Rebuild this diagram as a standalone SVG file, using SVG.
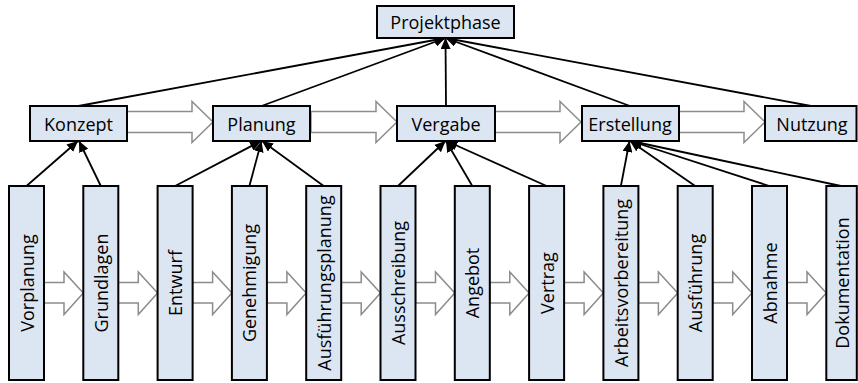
<svg xmlns="http://www.w3.org/2000/svg" xmlns:xlink="http://www.w3.org/1999/xlink" width="858" height="383" viewBox="0 0 858 383">
  <style>
    .box { fill: #dce6f2; stroke: #000; stroke-width: 2; }
    .lbl { font-family: "Open Sans", "Liberation Sans", sans-serif; font-size: 18px; fill: #000; text-anchor: middle; dominant-baseline: central; }
    .flow { fill: #fff; stroke: #8c8c8c; stroke-width: 1.5; stroke-linejoin: miter; }
    .link { stroke: #000; stroke-width: 1.8; fill: none; marker-end: url(#tip); }
  </style>
  <defs>
    <marker id="tip" markerUnits="userSpaceOnUse" markerWidth="12" markerHeight="10" refX="11" refY="5" orient="auto">
      <path d="M0,0 L11,5 L0,10 Z" fill="#000"/>
    </marker>
    <!-- wide block arrow between phase boxes -->
    <path id="bigArrow" d="M0,111.5 H65 V101.5 L86,122 L65,142.5 V132.5 H0 Z"/>
    <!-- narrow block arrow between step boxes -->
    <path id="smallArrow" d="M0,282.5 H20 V272 L39.3,293 L20,314.5 V303 H0 Z"/>
  </defs>

  <!-- sequence arrows -->
  <g id="flow-arrows" class="flow">
    <use xlink:href="#bigArrow" x="127"/>
    <use xlink:href="#bigArrow" x="311"/>
    <use xlink:href="#bigArrow" x="495"/>
    <use xlink:href="#bigArrow" x="679"/>
    <use xlink:href="#smallArrow" x="44"/>
    <use xlink:href="#smallArrow" x="118.3"/>
    <use xlink:href="#smallArrow" x="192.6"/>
    <use xlink:href="#smallArrow" x="266.9"/>
    <use xlink:href="#smallArrow" x="341.2"/>
    <use xlink:href="#smallArrow" x="415.5"/>
    <use xlink:href="#smallArrow" x="489.8"/>
    <use xlink:href="#smallArrow" x="564.1"/>
    <use xlink:href="#smallArrow" x="638.4"/>
    <use xlink:href="#smallArrow" x="712.7"/>
    <use xlink:href="#smallArrow" x="787"/>
  </g>

  <!-- hierarchy connectors -->
  <g id="connectors" class="link">
    <line x1="78.5" y1="106" x2="445.5" y2="38"/>
    <line x1="261.5" y1="106" x2="445.5" y2="38"/>
    <line x1="446" y1="106" x2="445.5" y2="38"/>
    <line x1="630" y1="106" x2="445.5" y2="38"/>
    <line x1="811" y1="106" x2="445.5" y2="38"/>

    <line x1="26.5" y1="186" x2="78" y2="141"/>
    <line x1="100.8" y1="186" x2="79" y2="141"/>

    <line x1="175.1" y1="186" x2="261" y2="141"/>
    <line x1="249.4" y1="186" x2="261.5" y2="141"/>
    <line x1="323.7" y1="186" x2="262" y2="141"/>

    <line x1="398" y1="186" x2="445.5" y2="141"/>
    <line x1="472.3" y1="186" x2="446" y2="141"/>
    <line x1="546.6" y1="186" x2="446.5" y2="141"/>

    <line x1="620.9" y1="186" x2="629.5" y2="141"/>
    <line x1="695.2" y1="186" x2="630" y2="141"/>
    <line x1="769.5" y1="186" x2="630.5" y2="141"/>
    <line x1="841" y1="186" x2="631" y2="141"/>
  </g>

  <!-- top level -->
  <g id="projektphase">
    <rect class="box" x="377" y="6" width="137" height="32"/>
    <text class="lbl" x="445.5" y="22">Projektphase</text>
  </g>

  <!-- phases -->
  <g id="konzept">
    <rect class="box" x="30" y="106" width="97" height="35"/>
    <text class="lbl" x="78.5" y="123.5">Konzept</text>
  </g>
  <g id="planung">
    <rect class="box" x="213" y="106" width="97" height="35"/>
    <text class="lbl" x="261.5" y="123.5">Planung</text>
  </g>
  <g id="vergabe">
    <rect class="box" x="397" y="106" width="98" height="35"/>
    <text class="lbl" x="446" y="123.5">Vergabe</text>
  </g>
  <g id="erstellung">
    <rect class="box" x="582" y="106" width="97" height="35"/>
    <text class="lbl" x="630" y="123.5">Erstellung</text>
  </g>
  <g id="nutzung">
    <rect class="box" x="765" y="106" width="91.5" height="35"/>
    <text class="lbl" x="812" y="123.5">Nutzung</text>
  </g>

  <!-- steps -->
  <g id="vorplanung">
    <rect class="box" x="9" y="186" width="35" height="194"/>
    <text class="lbl" transform="translate(26.5,283) rotate(-90)">Vorplanung</text>
  </g>
  <g id="grundlagen">
    <rect class="box" x="83.3" y="186" width="35" height="194"/>
    <text class="lbl" transform="translate(100.8,283) rotate(-90)">Grundlagen</text>
  </g>
  <g id="entwurf">
    <rect class="box" x="157.6" y="186" width="35" height="194"/>
    <text class="lbl" transform="translate(175.1,283) rotate(-90)">Entwurf</text>
  </g>
  <g id="genehmigung">
    <rect class="box" x="231.9" y="186" width="35" height="194"/>
    <text class="lbl" transform="translate(249.4,283) rotate(-90)">Genehmigung</text>
  </g>
  <g id="ausfuehrungsplanung">
    <rect class="box" x="306.2" y="186" width="35" height="194"/>
    <text class="lbl" transform="translate(323.7,283) rotate(-90)">Ausführungsplanung</text>
  </g>
  <g id="ausschreibung">
    <rect class="box" x="380.5" y="186" width="35" height="194"/>
    <text class="lbl" transform="translate(398,283) rotate(-90)">Ausschreibung</text>
  </g>
  <g id="angebot">
    <rect class="box" x="454.8" y="186" width="35" height="194"/>
    <text class="lbl" transform="translate(472.3,283) rotate(-90)">Angebot</text>
  </g>
  <g id="vertrag">
    <rect class="box" x="529.1" y="186" width="35" height="194"/>
    <text class="lbl" transform="translate(546.6,283) rotate(-90)">Vertrag</text>
  </g>
  <g id="arbeitsvorbereitung">
    <rect class="box" x="603.4" y="186" width="35" height="194"/>
    <text class="lbl" transform="translate(620.9,283) rotate(-90)">Arbeitsvorbereitung</text>
  </g>
  <g id="ausfuehrung">
    <rect class="box" x="677.7" y="186" width="35" height="194"/>
    <text class="lbl" transform="translate(695.2,283) rotate(-90)">Ausführung</text>
  </g>
  <g id="abnahme">
    <rect class="box" x="752" y="186" width="35" height="194"/>
    <text class="lbl" transform="translate(769.5,283) rotate(-90)">Abnahme</text>
  </g>
  <g id="dokumentation">
    <rect class="box" x="826.3" y="186" width="30.5" height="194"/>
    <text class="lbl" transform="translate(842,283) rotate(-90)">Dokumentation</text>
  </g>
</svg>
